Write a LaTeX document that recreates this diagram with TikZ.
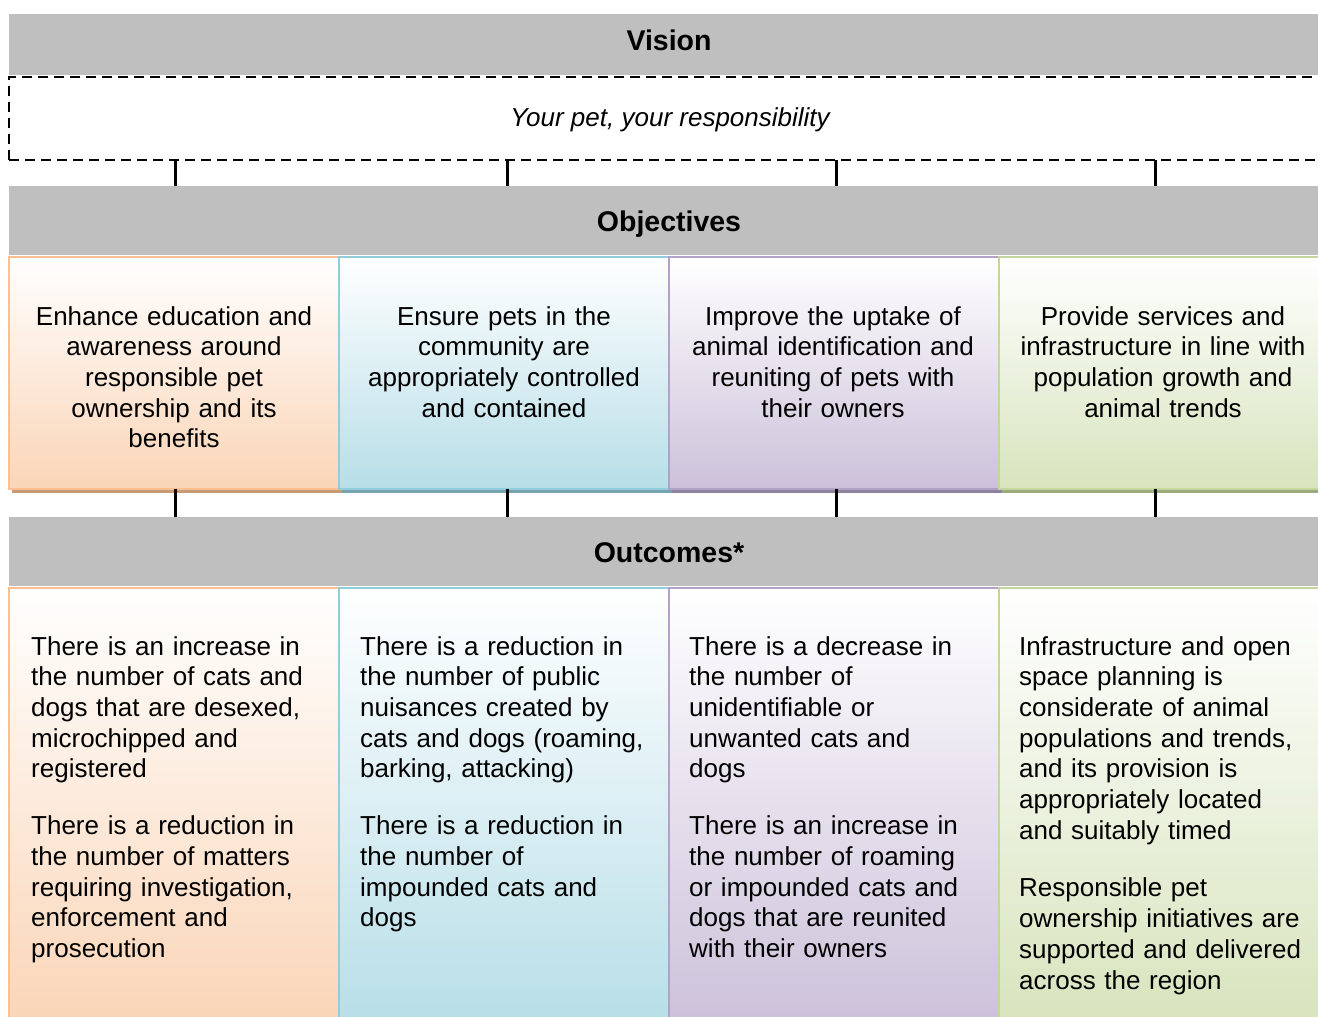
\documentclass[tikz,border=0pt]{standalone}
\usepackage{fontspec}
\setmainfont{Liberation Sans}
\definecolor{barg}{RGB}{191,191,191}
\definecolor{orB}{RGB}{250,192,144}
\definecolor{orF}{RGB}{250,213,183}
\definecolor{blB}{RGB}{146,205,220}
\definecolor{blF}{RGB}{183,222,232}
\definecolor{puB}{RGB}{179,162,199}
\definecolor{puF}{RGB}{204,193,218}
\definecolor{grB}{RGB}{195,214,155}
\definecolor{grF}{RGB}{215,228,189}
\begin{document}
\begin{tikzpicture}[x=1pt,y=-1pt,
  bar/.style={fill=barg, draw=none, anchor=north west, minimum width=1330pt, inner sep=0pt, outer sep=0pt},
  titletext/.style={font=\fontsize{28.5}{34}\selectfont\bfseries, anchor=base, inner sep=0pt},
  objbox/.style={anchor=north west, minimum width=330pt, minimum height=232pt, line width=2pt, inner sep=0pt, outer sep=0pt},
  outbox/.style={anchor=north west, minimum width=330pt, minimum height=436pt, line width=2pt, inner sep=0pt, outer sep=0pt},
  shadowbox/.style={anchor=north west, minimum width=330pt, minimum height=232pt, inner sep=0pt, draw=none},
  objtext/.style={font=\fontsize{26}{30.7}\selectfont, anchor=base, align=center, text width=320pt, inner sep=0pt},
  outtext/.style={font=\fontsize{26}{30.7}\selectfont, anchor=base west, align=left, text width=310pt, inner sep=0pt},
  conn/.style={line width=3pt, black}
]
\useasboundingbox (0,0) rectangle (1318,1017);
\clip (0,0) rectangle (1318,1017);

% Vision
\node[bar, minimum height=61pt] (visbar) at (9,14) {};
\node[titletext] (vistitle) at (669,50.5) {Vision};
\node[anchor=north west, minimum width=1330pt, minimum height=83pt, draw, line width=2pt, dash pattern=on 10pt off 6pt, inner sep=0pt, outer sep=0pt] (dashbox) at (9,77) {};
\node[font=\fontsize{26}{30.7}\selectfont\itshape, anchor=base, inner sep=0pt] (motto) at (670,126) {Your pet, your responsibility};

% Objectives bar
\node[bar, minimum height=69pt] (objbar) at (9,186) {};
\node[titletext] (objtitle) at (669,231) {Objectives};

% Connector x positions
\coordinate (c1) at (175.5,0);
\coordinate (c2) at (507,0);
\coordinate (c3) at (836,0);
\coordinate (c4) at (1155,0);

\draw[conn] (dashbox.south -| c1) -- (objbar.north -| c1);
\draw[conn] (dashbox.south -| c2) -- (objbar.north -| c2);
\draw[conn] (dashbox.south -| c3) -- (objbar.north -| c3);
\draw[conn] (dashbox.south -| c4) -- (objbar.north -| c4);

% Objective shadows
\node[shadowbox, fill=orB!80!black] (s1) at (12,260.5) {};
\node[shadowbox, fill=blB!80!black] (s2) at (342,260.5) {};
\node[shadowbox, fill=puB!80!black] (s3) at (672,260.5) {};
\node[shadowbox, fill=grB!80!black] (s4) at (1002,260.5) {};

% Objective boxes
\node[objbox, draw=orB, top color=white, bottom color=orF] (o1) at (9,256.5) {};
\node[objbox, draw=blB, top color=white, bottom color=blF] (o2) at (339,256.5) {};
\node[objbox, draw=puB, top color=white, bottom color=puF] (o3) at (669,256.5) {};
\node[objbox, draw=grB, top color=white, bottom color=grF] (o4) at (999,256.5) {};

\node[objtext] (t1) at (174,325) {Enhance education and\\awareness around\\responsible pet\\ownership and its\\benefits};
\node[objtext] (t2) at (504,325) {Ensure pets in the\\community are\\appropriately controlled\\and contained};
\node[objtext] (t3) at (833,325) {Improve the uptake of\\animal identification and\\reuniting of pets with\\their owners};
\node[objtext] (t4) at (1163,325) {Provide services and\\infrastructure in line with\\population growth and\\animal trends};

% Outcomes bar
\node[bar, minimum height=69pt] (outbar) at (9,517) {};
\node[titletext] (outtitle) at (669,562) {Outcomes*};

\draw[conn] (o1.south -| c1) -- (outbar.north -| c1);
\draw[conn] (o2.south -| c2) -- (outbar.north -| c2);
\draw[conn] (o3.south -| c3) -- (outbar.north -| c3);
\draw[conn] (o4.south -| c4) -- (outbar.north -| c4);

% Outcome boxes
\node[outbox, draw=orB, top color=white, bottom color=orF] (u1) at (9,587.5) {};
\node[outbox, draw=blB, top color=white, bottom color=blF] (u2) at (339,587.5) {};
\node[outbox, draw=puB, top color=white, bottom color=puF] (u3) at (669,587.5) {};
\node[outbox, draw=grB, top color=white, bottom color=grF] (u4) at (999,587.5) {};

\node[outtext] (v1) at (31,655) {There is an increase in\\the number of cats and\\dogs that are desexed,\\microchipped and\\registered\\[26.3pt]There is a reduction in\\the number of matters\\requiring investigation,\\enforcement and\\prosecution};
\node[outtext] (v2) at (360,655) {There is a reduction in\\the number of public\\nuisances created by\\cats and dogs (roaming,\\barking, attacking)\\[26.3pt]There is a reduction in\\the number of\\impounded cats and\\dogs};
\node[outtext] (v3) at (689,655) {There is a decrease in\\the number of\\unidentifiable or\\unwanted cats and\\dogs\\[26.3pt]There is an increase in\\the number of roaming\\or impounded cats and\\dogs that are reunited\\with their owners};
\node[outtext] (v4) at (1019,655) {Infrastructure and open\\space planning is\\considerate of animal\\populations and trends,\\and its provision is\\appropriately located\\and suitably timed\\[27pt]Responsible pet\\ownership initiatives are\\supported and delivered\\across the region};
\end{tikzpicture}
\end{document}
